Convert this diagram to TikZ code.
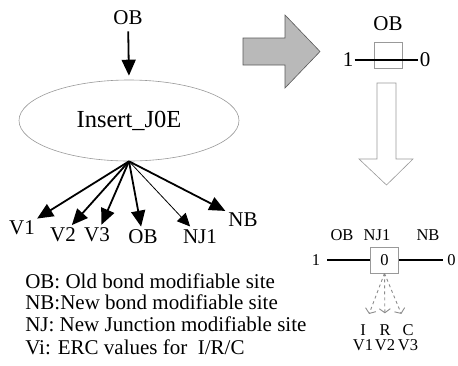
\documentclass[tikz,border=0pt]{standalone}
\usepackage{fontspec}
\setmainfont{Liberation Serif}
\usetikzlibrary{positioning, shapes.geometric, arrows.meta}
\tikzset{every picture/.style={line width=0.6pt}}

\begin{document}
\begin{tikzpicture}[x=1pt,y=-1pt,
    txt/.style={font=\fontsize{21}{22}\selectfont, inner sep=1pt},
    small/.style={font=\fontsize{16.5}{16}\selectfont, inner sep=1pt},
    pin/.style={-{Triangle[length=16pt,width=14pt]}, line width=1.8pt, shorten >=2pt},
    thinpin/.style={-{Triangle[length=13pt,width=12pt]}, line width=0.8pt, shorten >=3pt},
    site/.style={draw=gray!80, line width=0.6pt, minimum width=28pt, minimum height=26pt, inner sep=0pt},
    hint/.style={gray!90, dashed, line width=0.9pt, -{Straight Barb[length=4pt,width=11pt]}}]
    \useasboundingbox (0,0) rectangle (458,365);

    % left: insertion rule
    \node[txt]                                  (ob)   at (128,18)    {OB};
    \node[draw=gray!80, ellipse, txt, font=\fontsize{24.5}{26}\selectfont, minimum width=220pt, minimum height=81pt] (ins) at (129,120.5) {Insert\_J0E};
    \node[txt]                                  (v1)   at (22,228)    {V1};
    \node[txt]                                  (v2)   at (63,235)    {V2};
    \node[txt]                                  (v3)   at (97,235)    {V3};
    \node[txt]                                  (obo)  at (143,237)   {OB};
    \node[txt]                                  (nj)   at (200,237)   {NJ1};
    \node[txt]                                  (nb)   at (243,220)   {NB};

    \draw[pin, shorten <=5pt, shorten >=4pt] (ob) -- (ins.north);
    \draw[pin] (ins.south) -- (v1);
    \draw[pin] (ins.south) -- (v2);
    \draw[pin] (ins.south) -- (v3);
    \draw[pin] (ins.south) -- (obo);
    \draw[thinpin] (ins.south) -- (nj);
    \draw[pin] (ins.south) -- (nb);

    % key
    \node[txt, font=\fontsize{21}{21.5}\selectfont, align=left, anchor=north west] (key) at (24,272)
        {OB: Old bond modifiable site\\NB:New bond modifiable site\\NJ: New Junction modifiable site\\[2pt]Vi: ERC values for\ \ I/R/C};

    % block arrows
    \filldraw[fill=gray!55, draw=gray!70!black] (243,38) -- (285,38) -- (285,15) -- (320,51.5) -- (285,88) -- (285,65) -- (243,65) -- cycle;
    \draw[gray!80] (377,83) -- (396,83) -- (396,159) -- (413,159) -- (386.5,185) -- (359,159) -- (377,159) -- cycle;

    % right top: old bond
    \node[site]                     (obsite) at (388,55) {};
    \node[txt, above=10pt of obsite] (obtop)  {OB};
    \node[txt]                      (one)    at (348,60)  {1};
    \node[txt]                      (zero)   at (425,60)  {0};
    \draw[line width=1.4pt] (one) -- (zero);

    % right bottom: new junction
    \node[site, small]              (njsite) at (384.5,260) {0};
    \node[small]                    (ob2)    at (342,235)   {OB};
    \node[small]                    (nj2)    at (377,235)   {NJ1};
    \node[small]                    (nb2)    at (428,235)   {NB};
    \node[small]                    (one2)   at (316,260)   {1};
    \node[small, anchor=west]       (zero2)  at (446,260)   {0};
    \draw[line width=1.4pt, shorten <=6pt] (one2) -- (njsite);
    \draw[line width=1.4pt, shorten >=3pt] (njsite) -- (zero2);

    \node[small]                    (ri)     at (363,330)   {I};
    \node[small]                    (rr)     at (385,330)   {R};
    \node[small]                    (rc)     at (408,330)   {C};
    \node[small, below=1.4pt of ri] (rv1)    {V1};
    \node[small, below=1.4pt of rr] (rv2)    {V2};
    \node[small, below=1.4pt of rc] (rv3)    {V3};
    \draw[hint, shorten >=10pt] (njsite.south) -- (ri);
    \draw[hint, shorten >=10pt] (njsite.south) -- (rr);
    \draw[hint, shorten >=10pt] (njsite.south) -- (rc);
\end{tikzpicture}
\end{document}
